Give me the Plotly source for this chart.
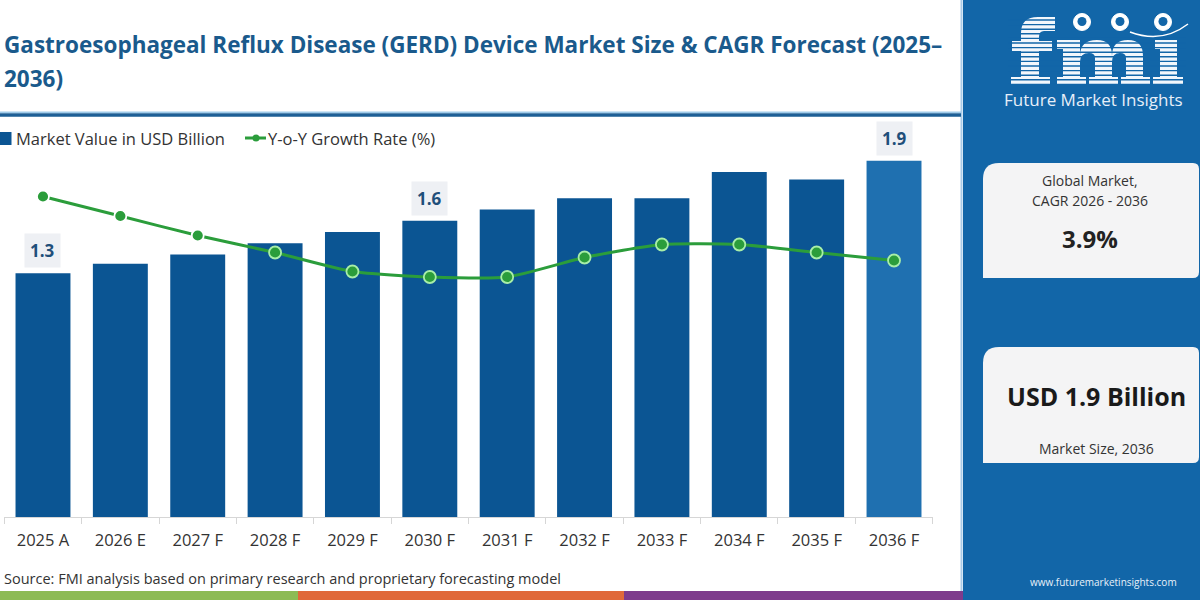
import re
import plotly.graph_objects as go

# ---------------- data ----------------
categories = ["2025 A", "2026 E", "2027 F", "2028 F", "2029 F", "2030 F",
              "2031 F", "2032 F", "2033 F", "2034 F", "2035 F", "2036 F"]
market_value = [1.30, 1.35, 1.40, 1.46, 1.52, 1.58, 1.64, 1.70, 1.70, 1.84, 1.80, 1.90]
yoy_growth = [5.07, 4.68, 4.29, 3.95, 3.57, 3.46, 3.46, 3.85, 4.11, 4.11, 3.95, 3.79]
labeled_bars = [0, 5, 11]

title_line1 = "Gastroesophageal Reflux Disease (GERD) Device Market Size & CAGR Forecast (2025–"
title_line2 = "2036)"
legend_labels = ["Market Value in USD Billion", "Y-o-Y Growth Rate (%)"]
source_text = "Source: FMI analysis based on primary research and proprietary forecasting model"
cagr_label = ["Global Market,", "CAGR 2026 - 2036"]
cagr_value = "3.9%"
size_value = "USD 1.9 Billion"
size_label = "Market Size, 2036"
brand_name = "Future Market Insights"
brand_url = "www.futuremarketinsights.com"

# ---------------- styling ----------------
W, H = 1200, 600
FONT = "Open Sans"
BAR = "#0b5593"
BAR_LAST = "#1f70b0"
GREEN = "#2b9d3b"
PANEL = "#1266a8"
TITLE_C = "#1a5a8c"
LOGO_C = "#f2f7fc"


def X(px):
    return px / W


def Y(py):
    return 1 - py / H


def pp(s):
    """convert a path written in pixel coordinates into paper coordinates"""
    return re.sub(r"(-?\d+\.?\d*),(-?\d+\.?\d*)",
                  lambda m: f"{X(float(m.group(1))):.5f},{Y(float(m.group(2))):.5f}", s)


fig = go.Figure()

bar_colors = [BAR] * (len(categories) - 1) + [BAR_LAST]
fig.add_trace(go.Bar(
    x=categories, y=market_value, marker=dict(color=bar_colors, line=dict(width=0)),
    width=0.71, name=legend_labels[0], hoverinfo="x+y"))

mk_line = ["white"] * 3 + ["#a8eea8"] * (len(categories) - 3)
fig.add_trace(go.Scatter(
    x=categories, y=yoy_growth, yaxis="y2", mode="lines+markers",
    line=dict(color=GREEN, width=3, shape="spline", smoothing=0.6),
    marker=dict(size=12, color=GREEN, line=dict(color=mk_line, width=1.8)),
    name=legend_labels[1]))

shapes = []
# right blue panel
shapes.append(dict(type="rect", xref="paper", yref="paper", x0=X(963), x1=1.0, y0=0, y1=1,
                   fillcolor=PANEL, line=dict(width=0), layer="below"))
shapes.append(dict(type="line", xref="paper", yref="paper", x0=X(961.5), x1=X(961.5), y0=0, y1=1,
                   line=dict(color="#a9cbe8", width=2), layer="below"))
# title underline
shapes.append(dict(type="line", xref="paper", yref="paper", x0=0, x1=X(961), y0=Y(112.3), y1=Y(112.3),
                   line=dict(color="#9fcbea", width=1.5), layer="below"))
shapes.append(dict(type="line", xref="paper", yref="paper", x0=0, x1=X(961), y0=Y(115), y1=Y(115),
                   line=dict(color="#1d5f96", width=3.5), layer="below"))
# bottom colour strip
for x0, x1, c in [(0, 298, "#8dbb54"), (298, 624, "#e0693a"), (624, 963, "#7e3b8c")]:
    shapes.append(dict(type="rect", xref="paper", yref="paper", x0=X(x0), x1=X(x1), y0=0, y1=Y(591),
                       fillcolor=c, line=dict(width=0), layer="below"))


def card(x0, y0, x1, y1, r=16, r2=6):
    path = (f"M {x0},{y1} L {x0},{y0 + r} Q {x0},{y0} {x0 + r},{y0} "
            f"L {x1 - r2},{y0} Q {x1},{y0} {x1},{y0 + r2} "
            f"L {x1},{y1 - r2} Q {x1},{y1} {x1 - r2},{y1} Z")
    return dict(type="path", xref="paper", yref="paper", path=pp(path),
                fillcolor="#f4f4f5", line=dict(width=0), layer="below")


shapes.append(card(983, 163, 1199, 278))
shapes.append(card(983, 347, 1199, 463))

# legend symbols
shapes.append(dict(type="rect", xref="paper", yref="paper", x0=X(0), x1=X(11.5), y0=Y(145), y1=Y(132),
                   fillcolor=BAR, line=dict(width=0)))
shapes.append(dict(type="line", xref="paper", yref="paper", x0=X(245), x1=X(266), y0=Y(138), y1=Y(138),
                   line=dict(color=GREEN, width=3)))
shapes.append(dict(type="circle", xref="paper", yref="paper", x0=X(252.5), x1=X(259.5), y0=Y(141.5), y1=Y(134.5),
                   fillcolor=GREEN, line=dict(width=0)))

# ---- logo (drawn as a graphic: slab-serif "fmi" with stripes) ----
logo_paths = [
    # f
    "M 1021,85 L 1021,33 Q 1021,17 1038,17 L 1055,17 L 1055,31 L 1044,31 Q 1039,31 1039,37 L 1039,85 Z",
    "M 1012,41 L 1052,41 L 1052,51 L 1012,51 Z",
    "M 1011,77 L 1050,77 L 1050,85 L 1011,85 Z",
    # m
    "M 1057,40 L 1080,40 L 1080,49 L 1057,49 Z",
    "M 1063,40 L 1080,40 L 1080,85 L 1063,85 Z",
    "M 1080,56 Q 1080,40 1097,40 Q 1112,40 1112,56 L 1112,85 L 1095,85 L 1095,58 Q 1095,53 1089,53 Q 1080,53 1080,62 Z",
    "M 1112,56 Q 1112,40 1128,40 Q 1143,40 1143,56 L 1143,85 L 1126,85 L 1126,58 Q 1126,53 1120,53 Q 1112,53 1112,62 Z",
    "M 1057,77 L 1086,77 L 1086,85 L 1057,85 Z",
    "M 1089,77 L 1118,77 L 1118,85 L 1089,85 Z",
    "M 1121,77 L 1150,77 L 1150,85 L 1121,85 Z",
    # i (dot replaced by a globe)
    "M 1155,40 L 1177,40 L 1177,49 L 1155,49 Z",
    "M 1160,40 L 1177,40 L 1177,85 L 1160,85 Z",
    "M 1153,77 L 1183,77 L 1183,85 L 1153,85 Z",
]
for p in logo_paths:
    shapes.append(dict(type="path", xref="paper", yref="paper", path=pp(p),
                       fillcolor=LOGO_C, line=dict(width=0), layer="below"))
# stripes through the letters
yy = 20.0
while yy < 85:
    x_start = 1008 if yy < 38 else 1008
    x_end = 1058 if yy < 38 else 1186
    shapes.append(dict(type="line", xref="paper", yref="paper", x0=X(x_start), x1=X(x_end),
                       y0=Y(yy), y1=Y(yy), line=dict(color=PANEL, width=1.4), layer="below"))
    yy += 4.6

# globes + swoosh
for cx in [1082, 1120, 1163]:
    shapes.append(dict(type="circle", xref="paper", yref="paper", x0=X(cx - 8.5), x1=X(cx + 8.5),
                       y0=Y(30.5), y1=Y(13.5), fillcolor="white", line=dict(color="white", width=1),
                       layer="below"))
    shapes.append(dict(type="circle", xref="paper", yref="paper", x0=X(cx - 4.5), x1=X(cx + 4.5),
                       y0=Y(26), y1=Y(17), fillcolor=PANEL, line=dict(width=0), layer="below"))
shapes.append(dict(type="path", xref="paper", yref="paper",
                   path=pp("M 1130,32 Q 1162,44 1188,24"),
                   line=dict(color="white", width=1.5), layer="below"))

annotations = []
# title
annotations.append(dict(xref="paper", yref="paper", x=X(2), y=Y(45), xanchor="left", yanchor="middle",
                        text=f"<b>{title_line1}</b>", showarrow=False,
                        font=dict(family=FONT, size=22.5, color=TITLE_C)))
annotations.append(dict(xref="paper", yref="paper", x=X(2), y=Y(78), xanchor="left", yanchor="middle",
                        text=f"<b>{title_line2}</b>", showarrow=False,
                        font=dict(family=FONT, size=22.5, color=TITLE_C)))
# legend texts
annotations.append(dict(xref="paper", yref="paper", x=X(14), y=Y(138), xanchor="left", yanchor="middle",
                        text=legend_labels[0], showarrow=False, font=dict(family=FONT, size=16.5, color="#333333")))
annotations.append(dict(xref="paper", yref="paper", x=X(266), y=Y(138), xanchor="left", yanchor="middle",
                        text=legend_labels[1], showarrow=False, font=dict(family=FONT, size=16.5, color="#333333")))
# value labels
for i in labeled_bars:
    annotations.append(dict(xref="x", yref="y", x=categories[i], y=market_value[i],
                            xanchor="center", yanchor="bottom", yshift=5,
                            text=f"<b>{market_value[i]:.1f}</b>", showarrow=False,
                            bgcolor="#eef0f4", borderpad=5,
                            font=dict(family=FONT, size=17, color="#1f4f7a")))
# source
annotations.append(dict(xref="paper", yref="paper", x=X(2), y=Y(578), xanchor="left", yanchor="middle",
                        text=source_text, showarrow=False, font=dict(family=FONT, size=14.5, color="#333333")))
# brand
annotations.append(dict(xref="paper", yref="paper", x=X(1093), y=Y(100), xanchor="center", yanchor="middle",
                        text=brand_name, showarrow=False, font=dict(family=FONT, size=17, color="#e6eff9")))
annotations.append(dict(xref="paper", yref="paper", x=X(1103), y=Y(582), xanchor="center", yanchor="middle",
                        text=brand_url, showarrow=False, font=dict(family=FONT, size=10, color="#e8f1fa")))
# cards
annotations.append(dict(xref="paper", yref="paper", x=X(1090), y=Y(180), xanchor="center", yanchor="middle",
                        text=cagr_label[0], showarrow=False, font=dict(family=FONT, size=14, color="#333333")))
annotations.append(dict(xref="paper", yref="paper", x=X(1090), y=Y(201), xanchor="center", yanchor="middle",
                        text=cagr_label[1], showarrow=False, font=dict(family=FONT, size=14, color="#333333")))
annotations.append(dict(xref="paper", yref="paper", x=X(1090), y=Y(238), xanchor="center", yanchor="middle",
                        text=f"<b>{cagr_value}</b>", showarrow=False, font=dict(family=FONT, size=24, color="#222222")))
annotations.append(dict(xref="paper", yref="paper", x=X(1096), y=Y(396), xanchor="center", yanchor="middle",
                        text=f"<b>{size_value}</b>", showarrow=False, font=dict(family=FONT, size=25, color="#1a1a1a")))
annotations.append(dict(xref="paper", yref="paper", x=X(1096), y=Y(448), xanchor="center", yanchor="middle",
                        text=size_label, showarrow=False, font=dict(family=FONT, size=14, color="#333333")))

fig.update_layout(
    width=W, height=H, margin=dict(l=0, r=0, t=0, b=0),
    paper_bgcolor="white", plot_bgcolor="rgba(0,0,0,0)",
    showlegend=False, bargap=0.29,
    font=dict(family=FONT, color="#333333"),
    xaxis=dict(domain=[X(4.3), X(932.7)], range=[-0.5, len(categories) - 0.5],
               showline=True, linecolor="#d6d6d6", linewidth=1,
               ticks="outside", ticklen=6, tickcolor="#d6d6d6", tickson="boundaries",
               tickfont=dict(family=FONT, size=16.5, color="#333333"), ticklabelstandoff=8,
               showgrid=False, zeroline=False, fixedrange=True),
    yaxis=dict(domain=[Y(517), Y(150)], range=[0, 367 / 187.5], visible=False,
               showgrid=False, zeroline=False, fixedrange=True),
    yaxis2=dict(overlaying="y", range=[-1.34, 6.0], visible=False,
                showgrid=False, zeroline=False, fixedrange=True),
    shapes=shapes, annotations=annotations,
)

fig.write_html("out.html")
